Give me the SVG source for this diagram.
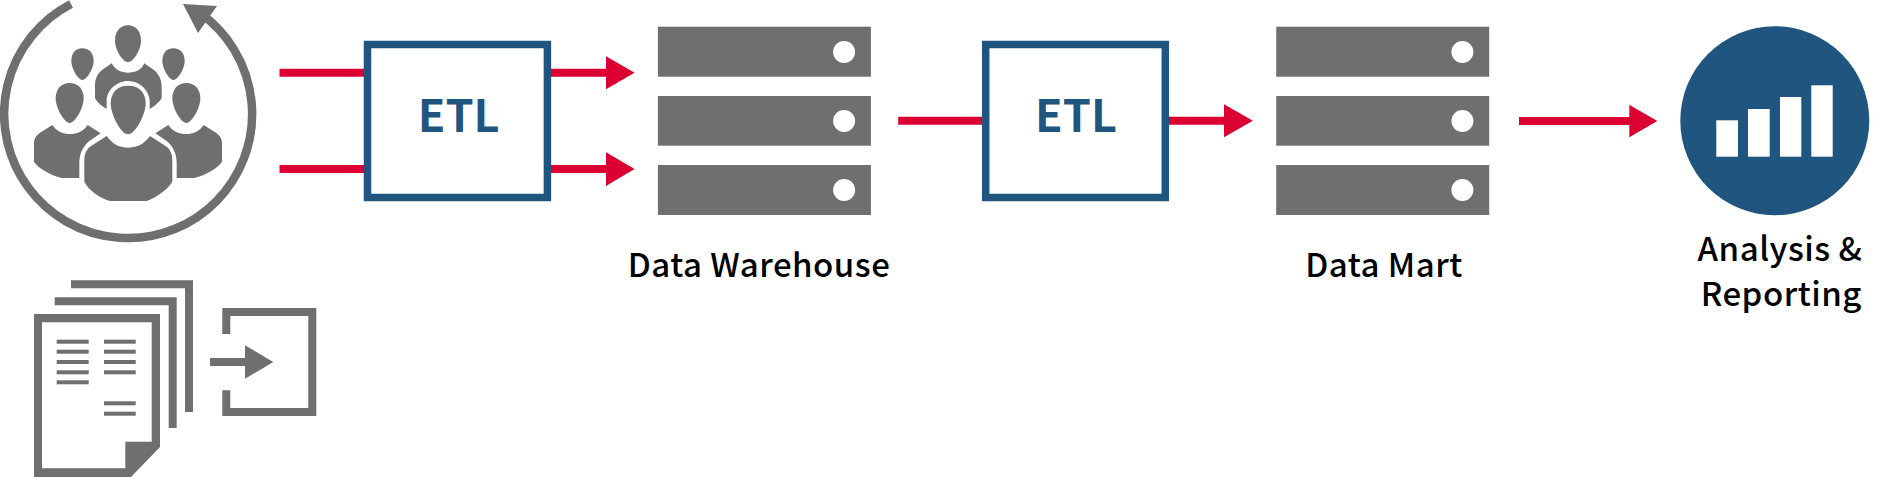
<svg xmlns="http://www.w3.org/2000/svg" xmlns:xlink="http://www.w3.org/1999/xlink" width="1877" height="477" viewBox="0 0 1877 477">
<style>
.g{fill:#706f6f}
.ln{fill:none;stroke:#706f6f;stroke-width:8}
.etl{fill:#fff;stroke:#1f557f;stroke-width:7.5}
.etlt{font:700 45px "Noto Sans CJK SC","Noto Sans",sans-serif;fill:#1f557f}
.lbl{font:500 33px "Noto Sans CJK SC","Noto Sans",sans-serif;fill:#000;letter-spacing:.5px}
.c{stroke:#dc0032;stroke-width:8;fill:none}
.h{fill:#dc0032}
</style>
<defs>
<g id="server">
<rect class="g" x="0" y="0" width="213" height="50"/>
<circle cx="186.200" cy="25.300" r="11" fill="#fff"/>
<rect class="g" x="0" y="69.300" width="213" height="49.700"/>
<circle cx="186.200" cy="94.300" r="11" fill="#fff"/>
<rect class="g" x="0" y="138.300" width="213" height="50"/>
<circle cx="186.200" cy="163.300" r="11" fill="#fff"/>
</g>
<path id="sideBody" d="M157 375C170 395 190 402 209 402C230 402 250 395 263 375L302 400L265 425C245 445 238 465 238 490L238 534L185 534C150 525 115 505 102 485L102 430C102 415 110 405 120 398Z"/>
</defs>
<rect width="1877" height="477" fill="#fff"/>
<g id="people">
<path class="ln" style="stroke-width:8.500" d="M71 4A124 124 0 1 0 200 13"/>
<polygon class="g" points="183,4 217,6 198,33"/>
<g class="g" transform="scale(.33333)">
<path d="M384 76C408 76 423 95 423 122C423 150 400 186 384 186C368 186 345 150 345 122C345 95 360 76 384 76Z"/>
<path d="M247 145C268 145 281 160 281 183C281 205 260 240 247 240C234 240 214 205 214 183C214 160 226 145 247 145Z"/>
<path d="M520 145C541 145 554 160 554 183C554 205 534 240 520 240C507 240 487 205 487 183C487 160 499 145 520 145Z"/>
<path d="M335 190C345 210 365 218 384 218C405 218 425 210 433 190L465 212C478 225 485 240 485 260L485 295C475 310 462 320 449 327L449 300C445 270 420 243 384 243C350 243 322 270 320 300L320 327C305 318 293 310 285 295L285 255C285 240 290 225 303 212Z"/>
<path d="M209 249C235 249 251 268 251 295C251 325 225 369 209 369C193 369 167 325 167 295C167 268 183 249 209 249Z"/>
<path d="M559 249C585 249 601 268 601 295C601 325 575 369 559 369C543 369 517 325 517 295C517 268 533 249 559 249Z"/>
<use xlink:href="#sideBody"/>
<use xlink:href="#sideBody" transform="translate(768 0) scale(-1 1)"/>
<path d="M384 257C420 257 437 280 437 310C437 345 405 403 384 403C363 403 332 345 332 310C332 280 350 257 384 257Z"/>
<path d="M320 408C340 435 360 443 384 443C408 443 430 435 450 408L500 440C512 450 517 465 517 480L517 545C505 565 475 590 440 603L330 603C300 595 265 570 253 545L253 480C253 465 258 450 270 440Z"/>
</g>
</g>
<g id="documents">
<path class="ln" d="M71 284.300H189V412"/>
<path class="ln" d="M54.700 301.300H172.700V428"/>
<path class="g" fill-rule="evenodd" d="M34 314H160V447L131 477H34ZM42 322.300V468.300H125.300V441.700H151.700V322.300Z"/>
<g class="g">
<rect x="56.700" y="339.700" width="32" height="4"/><rect x="56.700" y="349.700" width="32" height="4"/><rect x="56.700" y="360" width="32" height="4"/><rect x="56.700" y="370.300" width="32" height="4"/><rect x="56.700" y="380.300" width="32" height="4"/>
<rect x="104" y="339.700" width="31.700" height="4"/><rect x="104" y="349.700" width="31.700" height="4"/><rect x="104" y="360" width="31.700" height="4"/><rect x="104" y="370.300" width="31.700" height="4"/>
<rect x="104" y="401.300" width="31.700" height="4"/><rect x="104" y="411.700" width="31.700" height="4"/>
</g>
</g>
<g id="import">
<path class="ln" d="M226.300 334V312H312.300V412H226.300V390.300"/>
<rect class="g" x="210" y="358" width="37" height="8"/>
<polygon class="g" points="245,345.300 273.300,362 245,378.700"/>
</g>
<g id="connectors">
<path class="c" d="M279.500 72.700H365M279.500 169H365M550 72.700H608M550 169H608M898.200 120.700H983M1168 120.700H1226M1519 121H1631"/>
<polygon class="h" points="606,56.300 634.600,72.700 606,89.300"/>
<polygon class="h" points="606,152.300 634.600,169 606,186"/>
<polygon class="h" points="1224,104.300 1252.900,120.700 1224,137.300"/>
<polygon class="h" points="1629.300,104.700 1657.300,121 1629.300,137.300"/>
</g>
<g id="etl1">
<rect class="etl" x="367.500" y="44.500" width="179.900" height="153"/>
<text class="etlt" x="458.700" y="131.700" text-anchor="middle">ETL</text>
</g>
<g id="warehouse">
<use xlink:href="#server" x="657.900" y="26.700"/>
<text class="lbl" x="759" y="276.700" text-anchor="middle">Data Warehouse</text>
</g>
<g id="etl2">
<rect class="etl" x="985.700" y="44.500" width="179.600" height="153"/>
<text class="etlt" x="1076" y="131.700" text-anchor="middle">ETL</text>
</g>
<g id="mart">
<use xlink:href="#server" x="1276.200" y="26.700"/>
<text class="lbl" x="1384" y="276.700" text-anchor="middle">Data Mart</text>
</g>
<g id="analysis">
<circle cx="1774.800" cy="120.700" r="94.500" fill="#1f557f"/>
<g fill="#fff">
<rect x="1716.300" y="120.300" width="21.700" height="36.400"/>
<rect x="1748" y="109" width="21.700" height="47.700"/>
<rect x="1780" y="97" width="21.300" height="59.700"/>
<rect x="1811.300" y="85.300" width="21.400" height="71.400"/>
</g>
<text class="lbl" x="1780" y="260.700" text-anchor="middle">Analysis &amp;</text>
<text class="lbl" x="1781.300" y="306" text-anchor="middle">Reporting</text>
</g>
</svg>
